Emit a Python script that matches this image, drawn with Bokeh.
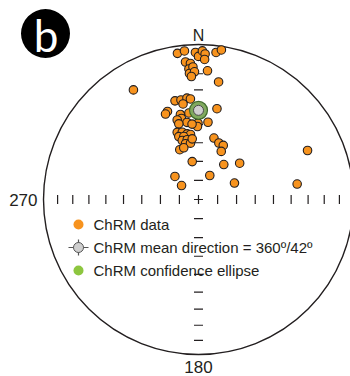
import numpy as np
from bokeh.plotting import figure
from bokeh.models import Range1d
from bokeh.core.properties import value
from bokeh.embed import file_html
from bokeh.resources import INLINE

# ChRM directions: declination / inclination (degrees), lower hemisphere
dec = [351.8, 354.6, 358.8, 0.0, 1.5, 2.6, 2.5, 6.8, 8.7, 354.6,
       356.6, 355.8, 357.6, 355.9, 358.2, 356.7, 4.0, 9.7, 329.3,
       346.6, 350.0, 353.5, 355.4, 350.8, 340.6, 338.9, 348.0, 348.1, 353.7,
       11.5, 351.5, 359.6, 359.2, 7.0, 345.0, 345.4, 355.1, 342.4, 346.4,
       350.2, 353.0, 342.6, 346.9, 344.6, 349.3, 346.9, 351.9, 339.4, 344.1,
       354.1, 14.1, 19.8, 24.6, 25.3, 350.6, 35.9, 48.6, 65.8, 314.4,
       309.5, 25.2, 65.4, 81.1]
inc = [5.3, 4.2, 5.7, 8.5, 4.6, 6.7, 10.5, 5.0, 2.7, 11.9,
       13.1, 16.7, 15.5, 19.6, 18.7, 21.6, 17.9, 24.1, 18.9,
       34.9, 35.1, 34.5, 35.2, 37.6, 39.6, 40.6, 43.3, 45.6, 43.2,
       40.0, 48.3, 49.2, 51.1, 48.4, 45.9, 48.2, 49.6, 52.5, 53.2,
       54.6, 55.2, 55.0, 55.7, 57.6, 57.8, 59.7, 59.9, 61.9, 61.6,
       57.7, 56.4, 58.2, 58.5, 61.9, 69.8, 67.3, 61.0, 23.9, 72.7,
       78.5, 76.1, 69.2, 35.8]
mean_dec, mean_inc = 360.0, 42.0
tick_incs = [10, 20, 30, 40, 50, 60, 70, 80]
legend_labels = ["ChRM data", "ChRM mean direction = 360º/42º", "ChRM confidence ellipse"]

W, H = 350, 376
R, CX, CY = 155.0, 198.0, 199.0
FONT = value("Liberation Sans")
INK = "#231f20"
ORANGE = "#f7931e"


def X(px):
    return (px - CX) / R


def Y(py):
    return (CY - py) / R


def ea(d, i):
    d = np.radians(np.asarray(d, dtype=float))
    i = np.asarray(i, dtype=float)
    r = np.sqrt(2.0) * np.sin(np.radians(90.0 - i) / 2.0)
    return r * np.sin(d), r * np.cos(d)


p = figure(width=W, height=H, x_range=Range1d(X(0), X(W)), y_range=Range1d(Y(H), Y(0)),
           x_axis_type=None, y_axis_type=None, toolbar_location=None,
           output_backend="svg", min_border=0, outline_line_color=None)
p.grid.visible = False
p.background_fill_color = "white"
p.border_fill_color = "white"

# primitive circle
p.circle(x=[0], y=[0], radius=1.0, fill_color=None, line_color=INK, line_width=1.4)

# ticks along the axes
rt = np.sqrt(2.0) * np.sin(np.radians(90.0 - np.array(tick_incs, float)) / 2.0)
rr = np.concatenate([rt, -rt, [0.0]])
h = 4.5 / R
p.segment(x0=rr, y0=-h, x1=rr, y1=h, line_color=INK, line_width=1.2)
p.segment(x0=-h, y0=rr, x1=h, y1=rr, line_color=INK, line_width=1.2)

# axis labels
p.text(x=[0], y=[Y(35)], text=["N"], text_align="center", text_baseline="middle",
       text_font=FONT, text_font_size="16px", text_color=INK)
p.text(x=[X(37)], y=[0], text=["270"], text_align="right", text_baseline="middle",
       text_font=FONT, text_font_size="17px", text_color=INK)
p.text(x=[0], y=[Y(366)], text=["180"], text_align="center", text_baseline="middle",
       text_font=FONT, text_font_size="17px", text_color=INK)

# data
xs, ys = ea(dec, inc)
p.scatter(x=xs, y=ys, size=8.5, fill_color=ORANGE, line_color=INK, line_width=1.1)

mx, my = ea([mean_dec], [mean_inc])
p.scatter(x=mx, y=my, size=18, fill_color="#80a95e", line_color="#3f6a2c", line_width=1.2)
p.scatter(x=mx, y=my, size=10, fill_color="#cfcfcf", line_color="#4a4a4a", line_width=1.0)

# badge
p.scatter(x=[X(45)], y=[Y(33)], size=49, fill_color="black", line_color=None)
p.text(x=[X(45.5)], y=[Y(34)], text=["b"], text_align="center", text_baseline="middle",
       text_font=value("Lato"), text_font_size="44px", text_color="white")

# legend
lx, tx = 78, 93
rows = [224, 247, 270]
p.scatter(x=[X(lx)], y=[Y(rows[0])], size=10, fill_color=ORANGE, line_color=None)
p.segment(x0=[X(lx - 10)], y0=[Y(rows[1])], x1=[X(lx + 10)], y1=[Y(rows[1])], line_color="#555555", line_width=1.2)
p.segment(x0=[X(lx)], y0=[Y(rows[1] - 8)], x1=[X(lx)], y1=[Y(rows[1] + 8)], line_color="#555555", line_width=1.2)
p.scatter(x=[X(lx)], y=[Y(rows[1])], size=10, fill_color="#cfcfcf", line_color="#555555", line_width=1.0)
p.scatter(x=[X(lx)], y=[Y(rows[2])], size=10, fill_color="#8dc63f", line_color=None)
p.text(x=[X(tx)] * 3, y=[Y(r) for r in rows], text=legend_labels, text_align="left",
       text_baseline="middle", text_font=FONT, text_font_size="15px", text_color=INK)

open("out.html", "w").write(file_html(p, INLINE))
